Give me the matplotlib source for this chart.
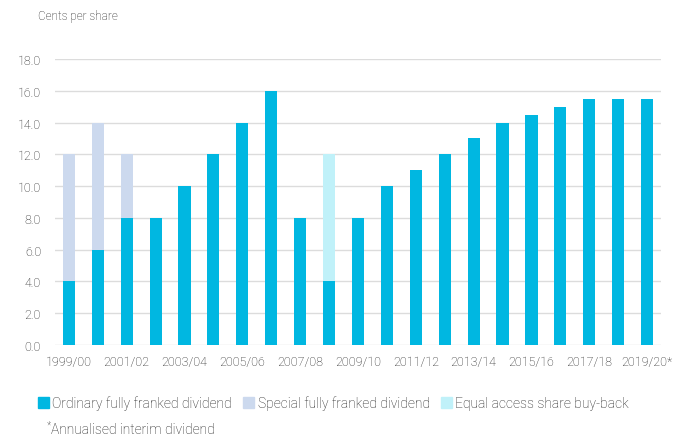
import matplotlib.pyplot as plt
import numpy as np
from matplotlib.patches import Patch

plt.rcParams['font.family'] = ['Roboto', 'DejaVu Sans']
plt.rcParams['font.weight'] = 'light'

years = ['1999/00', '2000/01', '2001/02', '2002/03', '2003/04', '2004/05', '2005/06',
         '2006/07', '2007/08', '2008/09', '2009/10', '2010/11', '2011/12', '2012/13',
         '2013/14', '2014/15', '2015/16', '2016/17', '2017/18', '2018/19', '2019/20*']
ordinary = [4, 6, 8, 8, 10, 12, 14, 16, 8, 4, 8, 10, 11, 12, 13, 14, 14.5, 15, 15.5, 15.5, 15.5]
special = [8, 8, 4, 0, 0, 0, 0, 0, 0, 0, 0, 0, 0, 0, 0, 0, 0, 0, 0, 0, 0]
buyback = [0, 0, 0, 0, 0, 0, 0, 0, 0, 8, 0, 0, 0, 0, 0, 0, 0, 0, 0, 0, 0]

c_ord = '#00B7E1'
c_spec = '#CCD9EE'
c_buy = '#C0F1F9'
txt = '#1E1E1E'

fig = plt.figure(figsize=(6.82, 4.39), dpi=100)
ax = fig.add_axes([0.0806, 0.2118, 0.8886, 0.6515])

x = np.arange(len(years))
w = 0.42
ax.bar(x, ordinary, w, color=c_ord, zorder=3)
ax.bar(x, special, w, bottom=ordinary, color=c_spec, zorder=3)
ax.bar(x, buyback, w, bottom=ordinary, color=c_buy, zorder=3)

ax.set_xlim(-0.48, 20.48)
ax.set_ylim(0, 18)
ax.set_yticks(np.arange(0, 18.1, 2))
ax.set_yticklabels(['%.1f' % v for v in np.arange(0, 18.1, 2)])
ax.set_xticks(x[::2])
ax.set_xticklabels(years[::2])
ax.tick_params(length=0, labelsize=9, colors=txt)
ax.tick_params(axis='x', pad=7)
ax.tick_params(axis='y', pad=10)
ax.grid(axis='y', color='#DCDCDC', linewidth=1, zorder=0)
for s in ax.spines.values():
    s.set_visible(False)

fig.text(0.056, 0.963, 'Cents per share', fontsize=8.5, color=txt, va='center')

handles = [Patch(color=c_ord), Patch(color=c_spec), Patch(color=c_buy)]
labels = ['Ordinary fully franked dividend', 'Special fully franked dividend',
          'Equal access share buy-back']
fig.legend(handles, labels, loc='center left', bbox_to_anchor=(0.037, 0.08), ncol=3,
           frameon=False, fontsize=10, handlelength=0.8, handleheight=0.8,
           handletextpad=0.25, columnspacing=0.8, labelcolor=txt)

fig.text(0.069, 0.03, '*', fontsize=7, color=txt, va='center')
fig.text(0.075, 0.02, 'Annualised interim dividend', fontsize=10, color=txt, va='center')

fig.savefig('out.png', dpi=100)
